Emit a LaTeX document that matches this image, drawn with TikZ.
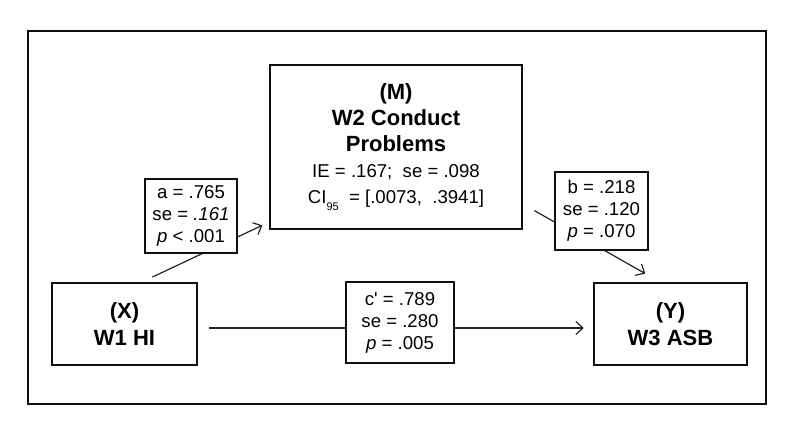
\documentclass[tikz,border=0pt]{standalone}
\usepackage{fontspec}
\setmainfont{Liberation Sans}
\usepackage{tikz}
\usetikzlibrary{arrows.meta,positioning}
\usepackage{xcolor}
\definecolor{medblack}{RGB}{15,15,15}
\definecolor{medline}{RGB}{35,35,35}
\newcommand{\coeffont}{\mdseries\fontsize{9.3}{11}\selectfont}
\newcommand{\cisub}{\raisebox{-0.7ex}{\fontsize{5.5}{6}\selectfont 95}}
\tikzstyle{arrow} = [line width=0.6pt,color=medline,-{Straight Barb[length=3.5pt,width=6.5pt]}]
\tikzstyle{varbox} = [rectangle, draw=medblack, line width=1.3pt, align=center, font=\fontsize{11}{13}\selectfont\bfseries]
\tikzstyle{coefbox} = [rectangle, draw=medblack, fill=white, line width=0.7pt, align=center, font=\coeffont]

\begin{document}
\begin{tikzpicture}[x=0.5pt, y=-0.5pt]
    \useasboundingbox (0,0) rectangle (800,438);
    % Frame
    \draw[medblack, line width=1.2pt] (28,31) rectangle (766,404);

    % Variables
    \node[varbox, minimum width=126pt, minimum height=82pt] (med) at (396,147)
        {(M)\\W2 Conduct\\Problems\\{\coeffont IE = .167;\ \ se = .098}\\{\coeffont CI\cisub\ \ = [.0073,\ \ .3941]}};
    \node[varbox, minimum width=72.5pt, minimum height=41pt, font=\fontsize{11}{13.5}\selectfont\bfseries] (pred) at (124.5,324) {(X)\\W1 HI};
    \node[varbox, minimum width=76.5pt, minimum height=41pt, font=\fontsize{11}{13.5}\selectfont\bfseries] (outc) at (670.5,324) {(Y)\\W3 ASB};

    % Arrows
    \draw[arrow, shorten <=5.5pt, shorten >=3.5pt] ([xshift=9pt]pred.north) -- ([yshift=4pt]med.south west);
    \draw[arrow, shorten <=6.4pt, shorten >=8.2pt] ([yshift=13pt]med.south east) -- ([xshift=-5.5pt]outc.north);
    \draw[arrow, shorten <=5.5pt, shorten >=4.5pt] ([yshift=-2pt]pred.east) -- ([yshift=-2pt]outc.west);

    % Coefficients
    \node[coefbox, minimum width=46pt, minimum height=36.5pt] (apath) at (191,216) {a = .765\\se = \textit{.161}\\\textit{p} < .001};
    \node[coefbox, minimum width=46.5pt, minimum height=39pt] (bpath) at (601.5,211) {b = .218\\se = .120\\\textit{p} = .070};
    \node[coefbox, minimum width=54pt, minimum height=40.5pt] (cpath) at (400,322.5) {c\textquotesingle{} = .789\\se = .280\\\textit{p} = .005};
\end{tikzpicture}
\end{document}
